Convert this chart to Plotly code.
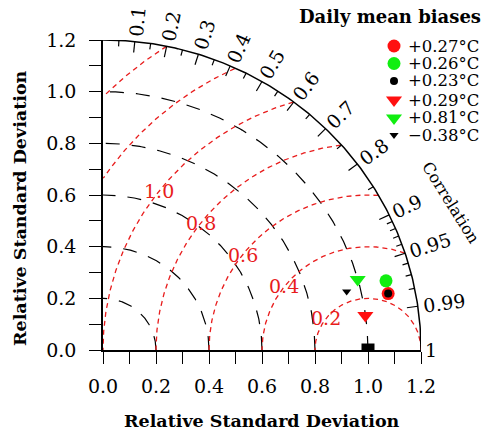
import numpy as np
import plotly.graph_objects as go

# ---------------- data ----------------
bias_labels = ["+0.27°C", "+0.26°C", "+0.23°C", "+0.29°C", "+0.81°C", "−0.38°C"]
std_dev = [1.098, 1.101, 1.098, 0.999, 0.999, 0.947]
correlation = [0.980, 0.970, 0.980, 0.991, 0.962, 0.971]
marker_colors = ["#ff1010", "#11ee11", "#000000", "#ff1010", "#11ee11", "#000000"]
marker_symbols = ["circle", "circle", "circle", "triangle-down", "triangle-down", "triangle-down"]
marker_sizes = [13, 13, 8, 14, 14, 8]

ref_std = 1.0
std_tick_vals = [0.0, 0.2, 0.4, 0.6, 0.8, 1.0, 1.2]
std_arc_levels = [0.2, 0.4, 0.6, 0.8, 1.0]
rms_labeled = [0.2, 0.4, 0.6, 0.8, 1.0]
rms_unlabeled = [1.2, 1.4]
corr_label_vals = [0.1, 0.2, 0.3, 0.4, 0.5, 0.6, 0.7, 0.8, 0.9, 0.95, 0.99, 1.0]
corr_label_text = ["0.1", "0.2", "0.3", "0.4", "0.5", "0.6", "0.7", "0.8", "0.9", "0.95", "0.99", "1"]
corr_major = [0.1, 0.2, 0.3, 0.4, 0.5, 0.6, 0.7, 0.8, 0.9, 0.95, 0.99]
corr_minor = [0.05, 0.15, 0.25, 0.35, 0.45, 0.55, 0.65, 0.75, 0.85,
              0.91, 0.92, 0.93, 0.94, 0.96, 0.97, 0.98]
RMAX = 1.2

# ---------------- layout geometry ----------------
W, H = 485, 433
ML, MR, MT, MB = 103, 64, 40, 83
X0, Y0 = ML, H - MB
PW, PH = W - ML - MR, H - MT - MB
SX = PW / RMAX
SY = PH / RMAX

def px2p(px, py):
    """pixel -> paper coordinates"""
    return (px - X0) / PW, (Y0 - py) / PH

def d2p(x, y):
    """data -> paper coordinates"""
    return x / RMAX, y / RMAX

SERIF = "DejaVu Serif"
RED = "#e81c1c"

fig = go.Figure()

# black dashed std arcs
th = np.linspace(0, np.pi / 2, 200)
for r in std_arc_levels:
    fig.add_trace(go.Scatter(x=r * np.cos(th), y=r * np.sin(th), mode="lines",
                             line=dict(color="black", width=1.2, dash="14px,12px"),
                             hoverinfo="skip", showlegend=False, cliponaxis=False))

# red dashed RMS arcs centred on reference
phi = np.linspace(0, np.pi, 600)
for r in rms_labeled + rms_unlabeled:
    xs = ref_std + r * np.cos(phi)
    ys = r * np.sin(phi)
    keep = (xs >= 0) & (xs ** 2 + ys ** 2 <= RMAX ** 2 + 1e-9)
    fig.add_trace(go.Scatter(x=xs[keep], y=ys[keep], mode="lines",
                             line=dict(color=RED, width=1.3, dash="5px,4px"),
                             hoverinfo="skip", showlegend=False, cliponaxis=False))

# outer correlation arc
fig.add_trace(go.Scatter(x=RMAX * np.cos(th), y=RMAX * np.sin(th), mode="lines",
                         line=dict(color="black", width=1.5),
                         hoverinfo="skip", showlegend=False, cliponaxis=False))

# correlation ticks
tx, ty = [], []
def add_ticks(vals, length):
    for c in vals:
        t = np.arccos(c)
        x1, y1 = RMAX * np.cos(t), RMAX * np.sin(t)
        dx, dy = np.cos(t) * SX, np.sin(t) * SY
        n = np.hypot(dx, dy)
        x2 = x1 - dx / n * length / SX
        y2 = y1 - dy / n * length / SY
        tx.extend([x1, x2, None]); ty.extend([y1, y2, None])
add_ticks(corr_major, 11)
add_ticks(corr_minor, 6)
fig.add_trace(go.Scatter(x=tx, y=ty, mode="lines", line=dict(color="black", width=1.2),
                         hoverinfo="skip", showlegend=False, cliponaxis=False))

# reference point (half square on the axis)
fig.add_trace(go.Scatter(x=[ref_std], y=[0], mode="markers",
                         marker=dict(symbol="square", size=13, color="black"),
                         hoverinfo="skip", showlegend=False, cliponaxis=True))

# data points
for s, c, col, sym, sz in zip(std_dev, correlation, marker_colors, marker_symbols, marker_sizes):
    t = np.arccos(c)
    fig.add_trace(go.Scatter(x=[s * np.cos(t)], y=[s * np.sin(t)], mode="markers",
                             marker=dict(symbol=sym, size=sz, color=col, line=dict(width=0)),
                             showlegend=False, cliponaxis=False))

annotations = []

def ann(px_py=None, data_xy=None, **kw):
    if px_py is not None:
        x, y = px2p(*px_py)
    else:
        x, y = d2p(*data_xy)
    d = dict(x=x, y=y, xref="paper", yref="paper", showarrow=False,
             xanchor="center", yanchor="middle")
    d.update(kw)
    annotations.append(d)

# correlation labels
for c, txt in zip(corr_label_vals, corr_label_text):
    t = np.arccos(c)
    dx, dy = np.cos(t) * SX, np.sin(t) * SY
    n = np.hypot(dx, dy)
    L = {1: 11, 3: 32, 4: 45}[len(txt)]
    off = 4 + L / 2
    x = RMAX * np.cos(t) + dx / n * off / SX
    y = RMAX * np.sin(t) + dy / n * off / SY
    ang = np.degrees(np.arctan2(dy, dx))
    ann(data_xy=(x, y), text=txt, textangle=-ang if c < 1 else 0,
        font=dict(family=SERIF, size=19, color="black"))

# RMS labels
for r in rms_labeled:
    a = np.radians(142)
    ann(data_xy=(ref_std + r * np.cos(a), r * np.sin(a)), text=f"{r:.1f}",
        font=dict(family=SERIF, size=19, color=RED))

# titles
ann(px_py=(262, 421), text="<b>Relative Standard Deviation</b>",
    font=dict(family=SERIF, size=17.5, color="black"))
ann(px_py=(20, 208), text="<b>Relative Standard Deviation</b>", textangle=-90,
    font=dict(family=SERIF, size=17.5, color="black"))
ann(px_py=(451, 202), text="Correlation", textangle=58,
    font=dict(family=SERIF, size=16, color="black"))
ann(px_py=(390, 16), text="<b>Daily mean biases</b>",
    font=dict(family=SERIF, size=18, color="black"))

# legend
row_py = [46, 63.5, 81, 100, 118, 135]
for i, (lab, col, sym, sz) in enumerate(zip(bias_labels, marker_colors, marker_symbols, marker_sizes)):
    mx, my = (394 - X0) / SX, (Y0 - row_py[i]) / SY
    fig.add_trace(go.Scatter(x=[mx], y=[my], mode="markers",
                             marker=dict(symbol=sym, size=sz, color=col, line=dict(width=0)),
                             showlegend=False, cliponaxis=False, hoverinfo="skip"))
    ann(px_py=(406, row_py[i]), text=lab, xanchor="left", height=15,
        font=dict(family=SERIF, size=16.5, color="black"))

minor_vals = [round(0.1 * i, 1) for i in range(13)]
minor_text = [f"{v:.1f}" if v in std_tick_vals else "" for v in minor_vals]

axis_common = dict(range=[0, RMAX], showgrid=False, zeroline=False, showline=True,
                   linecolor="black", linewidth=1.5, ticks="outside", ticklen=12,
                   tickwidth=1.2, tickcolor="black", tickvals=minor_vals, ticktext=minor_text,
                   tickfont=dict(family=SERIF, size=19, color="black"), fixedrange=True)

fig.update_layout(
    width=W, height=H,
    margin=dict(l=ML, r=MR, t=MT, b=MB, pad=0),
    paper_bgcolor="white", plot_bgcolor="white",
    xaxis=dict(**axis_common, ticklabelstandoff=6),
    yaxis=dict(**axis_common, ticklabelstandoff=9),
    annotations=annotations,
    showlegend=False,
)

fig.write_html("out.html")
